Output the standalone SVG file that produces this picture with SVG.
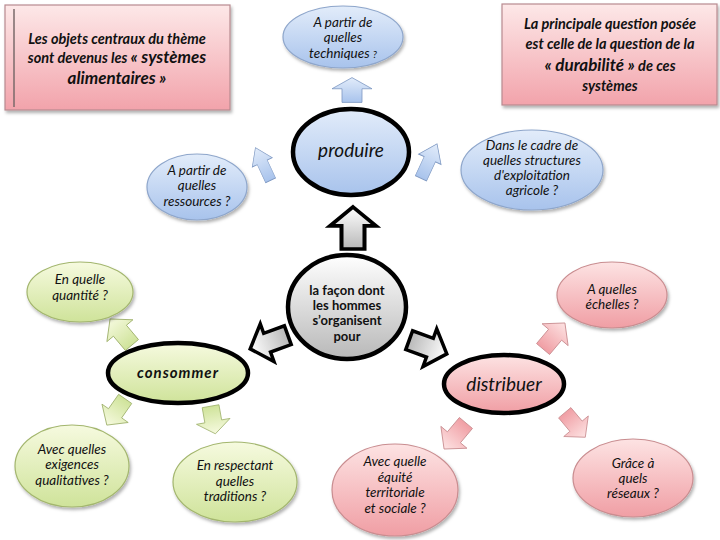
<svg xmlns="http://www.w3.org/2000/svg" xmlns:xlink="http://www.w3.org/1999/xlink" width="720" height="540" viewBox="0 0 720 540">
<defs>
<linearGradient id="gBox" x1="0" y1="0" x2="0" y2="1"><stop offset="0" stop-color="#fde8e8"/><stop offset="1" stop-color="#f2a3ab"/></linearGradient>
<linearGradient id="gBlue" x1="0" y1="0" x2="0" y2="1"><stop offset="0" stop-color="#e2ecfa"/><stop offset="1" stop-color="#a8c3ec"/></linearGradient>
<linearGradient id="gGreen" x1="0" y1="0" x2="0" y2="1"><stop offset="0" stop-color="#f6fadf"/><stop offset="1" stop-color="#cfe39a"/></linearGradient>
<linearGradient id="gPink" x1="0" y1="0" x2="0" y2="1"><stop offset="0" stop-color="#fde3e3"/><stop offset="1" stop-color="#f09ea4"/></linearGradient>
<linearGradient id="gGrey" x1="0" y1="0" x2="0" y2="1"><stop offset="0" stop-color="#ffffff"/><stop offset="1" stop-color="#b8b8b8"/></linearGradient>
<filter id="sh" x="-20%" y="-20%" width="140%" height="150%"><feDropShadow dx="1.5" dy="2.5" stdDeviation="1.5" flood-color="#000" flood-opacity="0.3"/></filter>
<path id="arr" d="M0,-20 L20,-2 L10,-2 L10,20 L-10,20 L-10,-2 L-20,-2 Z"/>
</defs>
<style>
text{font-family:Lato,"Liberation Sans",sans-serif;text-anchor:middle;fill:#111}
.q{font-style:italic;font-size:13.5px}
.bx{font-style:italic;font-weight:bold;font-size:14.5px}
.big{font-size:17px}
.blue{fill:url(#gBlue);stroke:#8ea6cb;stroke-width:1.2}
.green{fill:url(#gGreen);stroke:#a3b66e;stroke-width:1.2}
.pink{fill:url(#gPink);stroke:#c98d90;stroke-width:1.2}
.main{stroke:#000;stroke-width:4.5}
.ab{fill:url(#gBlue);stroke:#7e98c2;stroke-width:1}
.ag{fill:url(#gGreen);stroke:#9db06a;stroke-width:1}
.ap{fill:url(#gPink);stroke:#c98d90;stroke-width:1}
.ak{fill:url(#gGrey);stroke:#000;stroke-width:3.5}
use{vector-effect:non-scaling-stroke}
</style>
<rect width="720" height="540" fill="#fff"/>

<g id="box-objets">
<rect x="5" y="5" width="225" height="105" fill="url(#gBox)" stroke="#b88a90" stroke-width="1.2" filter="url(#sh)"/>
<line x1="14" y1="9" x2="14" y2="107" stroke="#7a6a6a" stroke-width="1.5"/>
<text class="bx" x="117" y="44">Les objets centraux du thème</text>
<text class="bx" x="117" y="63">sont devenus  les <tspan class="big">« systèmes</tspan></text>
<text class="bx big" x="117" y="84">alimentaires »</text>
</g>

<g id="box-durabilite">
<rect x="502" y="4" width="215" height="101" fill="url(#gBox)" stroke="#b88a90" stroke-width="1.2" filter="url(#sh)"/>
<text class="bx" x="610" y="29">La principale question posée</text>
<text class="bx" x="610" y="49">est celle de la question de la</text>
<text class="bx" x="610" y="71"><tspan class="big">« durabilité »</tspan> de ces</text>
<text class="bx" x="610" y="91">systèmes</text>
</g>

<g id="connectors">
<use href="#arr" class="ab" transform="translate(352,90) scale(1,0.62)"/>
<use href="#arr" class="ab" transform="translate(429,161) rotate(25) scale(0.62,0.95)"/>
<use href="#arr" class="ab" transform="translate(263,164) rotate(-25) scale(0.55,0.9)"/>
<use href="#arr" class="ak" transform="translate(353,228) scale(1.15,1.05)"/>
<use href="#arr" class="ak" transform="translate(269,342) rotate(-110) scale(1.0,1.0)"/>
<use href="#arr" class="ak" transform="translate(428,347) rotate(110) scale(1.0,1.0)"/>
<use href="#arr" class="ag" transform="translate(121,332) rotate(-40) scale(0.85,0.85)"/>
<use href="#arr" class="ag" transform="translate(116,412) rotate(215) scale(0.8,0.8)"/>
<use href="#arr" class="ag" transform="translate(213,420) rotate(170) scale(0.85,0.7)"/>
<use href="#arr" class="ap" transform="translate(554,336) rotate(40) scale(0.85,0.85)"/>
<use href="#arr" class="ap" transform="translate(455,436) rotate(220) scale(0.85,0.85)"/>
<use href="#arr" class="ap" transform="translate(575,425) rotate(140) scale(0.8,0.8)"/>
</g>

<g id="n-techniques">
<ellipse class="blue" cx="343" cy="37" rx="60" ry="31" filter="url(#sh)"/>
<text class="q" x="343" y="27">A partir de</text>
<text class="q" x="343" y="42">quelles</text>
<text class="q" x="343" y="58">techniques <tspan font-size="10">?</tspan></text>
</g>

<g id="n-produire">
<ellipse class="blue main" cx="351" cy="152" rx="58" ry="43"/>
<text x="351" y="157" font-style="italic" font-size="19" fill="#1c1c3a">produire</text>
</g>

<g id="n-structures">
<ellipse class="blue" cx="532" cy="170" rx="71" ry="40" filter="url(#sh)"/>
<text class="q" x="532" y="150">Dans le cadre de</text>
<text class="q" x="532" y="165">quelles structures</text>
<text class="q" x="532" y="180">d'exploitation</text>
<text class="q" x="532" y="195">agricole ?</text>
</g>

<g id="n-ressources">
<ellipse class="blue" cx="197" cy="187" rx="50" ry="33" filter="url(#sh)"/>
<text class="q" x="197" y="175">A  partir de</text>
<text class="q" x="197" y="190">quelles</text>
<text class="q" x="197" y="206">ressources ?</text>
</g>

<g id="n-centre">
<ellipse class="main" fill="url(#gGrey)" cx="347" cy="307" rx="59" ry="52"/>
<text x="347" y="295" font-weight="bold" font-size="13">la façon dont</text>
<text x="347" y="310" font-weight="bold" font-size="13">les hommes</text>
<text x="347" y="325" font-weight="bold" font-size="13">s’organisent</text>
<text x="347" y="341" font-weight="bold" font-size="13">pour</text>
</g>

<g id="n-consommer">
<ellipse class="green main" cx="178" cy="373" rx="70" ry="30"/>
<text x="178" y="378" font-style="italic" font-weight="bold" font-size="15" letter-spacing="1">consommer</text>
</g>

<g id="n-distribuer">
<ellipse class="pink main" cx="504" cy="384" rx="60" ry="29"/>
<text x="504" y="391" font-style="italic" font-size="19">distribuer</text>
</g>

<g id="n-quantite">
<ellipse class="green" cx="80" cy="292" rx="53" ry="30" filter="url(#sh)"/>
<text class="q" x="80" y="284">En quelle</text>
<text class="q" x="80" y="300">quantité ?</text>
</g>

<g id="n-exigences">
<ellipse class="green" cx="72" cy="466" rx="57" ry="41" filter="url(#sh)"/>
<text class="q" x="72" y="454">Avec quelles</text>
<text class="q" x="72" y="469">exigences</text>
<text class="q" x="72" y="485">qualitatives ?</text>
</g>

<g id="n-traditions">
<ellipse class="green" cx="235" cy="482" rx="62" ry="40" filter="url(#sh)"/>
<text class="q" x="235" y="470">En respectant</text>
<text class="q" x="235" y="486">quelles</text>
<text class="q" x="235" y="501">traditions ?</text>
</g>

<g id="n-equite">
<ellipse class="pink" cx="395" cy="490" rx="63" ry="46" filter="url(#sh)"/>
<text class="q" x="395" y="466">Avec quelle</text>
<text class="q" x="395" y="482">équité</text>
<text class="q" x="395" y="497">territoriale</text>
<text class="q" x="395" y="513">et sociale  ?</text>
</g>

<g id="n-echelles">
<ellipse class="pink" cx="612" cy="295" rx="55" ry="33" filter="url(#sh)"/>
<text class="q" x="612" y="294">A quelles</text>
<text class="q" x="612" y="309">échelles ?</text>
</g>

<g id="n-reseaux">
<ellipse class="pink" cx="633" cy="478" rx="60" ry="39" filter="url(#sh)"/>
<text class="q" x="633" y="468">Grâce à</text>
<text class="q" x="633" y="483">quels</text>
<text class="q" x="633" y="498">réseaux ?</text>
</g>
</svg>
